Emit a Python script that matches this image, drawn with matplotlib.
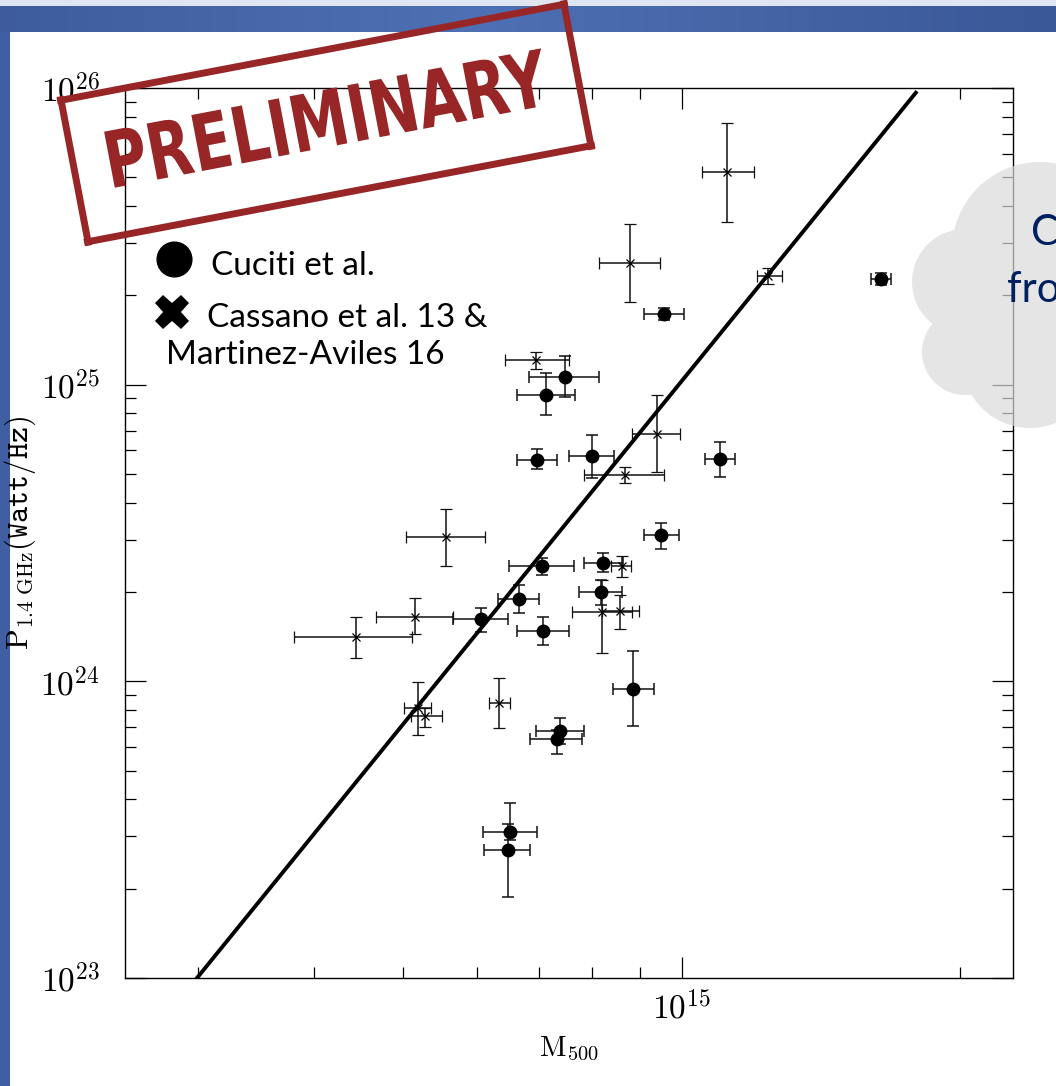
import numpy as np
import matplotlib
matplotlib.use("Agg")
import matplotlib.pyplot as plt
from matplotlib.patches import Rectangle, PathPatch
from matplotlib.path import Path
from matplotlib.textpath import TextPath
from matplotlib.font_manager import FontProperties
from matplotlib.transforms import Affine2D
from matplotlib.ticker import LogLocator, FuncFormatter, NullFormatter

plt.rcParams["mathtext.fontset"] = "cm"

# Cuciti et al.: M500 in 1e14 Msun, P(1.4 GHz) in 1e24 W/Hz, with lower/upper bounds
cuc_m = [7.48, 7.13, 6.98, 8.00, 10.99, 7.06, 8.22, 6.67, 8.18, 6.07,
         7.08, 8.85, 7.39, 7.33, 16.43, 9.56, 9.49, 6.52, 6.49]
cuc_m_lo = [6.84, 6.64, 6.64, 7.55, 10.6, 6.51, 7.84, 6.33, 7.74, 5.66,
            6.64, 8.43, 6.96, 6.85, 16.03, 9.10, 9.10, 6.10, 6.11]
cuc_m_hi = [8.14, 7.67, 7.33, 8.45, 11.4, 7.65, 8.64, 7.01, 8.62, 6.49,
            7.55, 9.33, 7.84, 7.80, 16.81, 10.05, 9.93, 6.98, 6.85]
cuc_p = [10.6, 9.23, 5.57, 5.75, 5.62, 2.45, 2.51, 1.90, 2.00, 1.62,
         1.48, 0.943, 0.681, 0.639, 22.7, 17.3, 3.11, 0.311, 0.270]
cuc_p_lo = [9.09, 7.91, 5.20, 4.85, 4.89, 2.28, 2.34, 1.70, 1.81, 1.47,
            1.33, 0.707, 0.615, 0.569, 21.7, 16.5, 2.79, 0.292, 0.188]
cuc_p_hi = [12.5, 10.95, 6.07, 6.77, 6.41, 2.61, 2.71, 2.11, 2.20, 1.77,
            1.65, 1.27, 0.753, 0.686, 23.8, 18.1, 3.42, 0.389, 0.331]

# Cassano et al. 13 & Martinez-Aviles 16
cas_m = [11.2, 8.79, 12.4, 6.96, 9.40, 8.68, 5.56, 8.62, 8.20, 8.57,
         5.15, 4.44, 5.19, 5.28, 6.35]
cas_m_lo = [10.5, 8.14, 12.05, 6.43, 8.83, 7.84, 5.03, 8.38, 7.61, 8.20,
            4.67, 3.81, 5.01, 5.09, 6.18]
cas_m_hi = [11.96, 9.47, 12.82, 7.55, 9.95, 9.56, 6.13, 8.81, 8.83, 8.99,
            5.66, 5.11, 5.36, 5.50, 6.52]
cas_p = [52.1, 25.7, 23.2, 12.1, 6.82, 4.96, 3.07, 2.45, 1.71, 1.73,
         1.65, 1.41, 0.813, 0.765, 0.846]
cas_p_lo = [35.3, 19.0, 21.8, 11.3, 5.08, 4.66, 2.45, 2.25, 1.25, 1.50,
            1.44, 1.20, 0.660, 0.702, 0.696]
cas_p_hi = [76.2, 34.8, 24.7, 12.9, 9.23, 5.28, 3.81, 2.65, 2.20, 1.96,
            1.91, 1.65, 0.995, 0.813, 1.03]

# power-law fit  P24 = 10**fit_norm * M14**fit_slope
fit_slope = 3.84
fit_norm = -2.827
fit_m_range = [2.99, 17.9]

W, H = 1056, 1086
fig = plt.figure(figsize=(W / 100, H / 100), dpi=100)

# slide background
bg = fig.add_axes([0, 0, 1, 1])
bg.axis("off")
edge = np.array([0x3a, 0x58, 0x98]) / 255
mid = np.array([0x4e, 0x70, 0xb4]) / 255
t = np.linspace(0, 1, 300)
w = 1 - np.abs(t - 0.45) / 0.55
band = edge[None, :] * (1 - w[:, None]) + mid[None, :] * w[:, None]
bg.imshow(band[None, :, :], extent=(0, W, H - 32, H - 6), aspect="auto")
bg.add_patch(Rectangle((0, H - 6), W, 6, color="#dfe6f1", lw=0))
bg.add_patch(Rectangle((0, 0), 10, H - 32, color="#3f5fa2", lw=0))
bg.add_patch(Rectangle((10, 0), W - 10, H - 32, color="white", lw=0))
bg.set_xlim(0, W)
bg.set_ylim(0, H)

ax = fig.add_axes([125 / W, 108 / H, 888 / W, 890 / H])
ax.set_xscale("log")
ax.set_yscale("log")
ax.set_xlim(2.5e14, 2.28e15)
ax.set_ylim(1e23, 1e26)

def scaled(vals, unit):
    return np.array(vals) * unit

cm_ = scaled(cuc_m, 1e14)
cp_ = scaled(cuc_p, 1e24)
ax.errorbar(cm_, cp_,
            xerr=[cm_ - scaled(cuc_m_lo, 1e14), scaled(cuc_m_hi, 1e14) - cm_],
            yerr=[cp_ - scaled(cuc_p_lo, 1e24), scaled(cuc_p_hi, 1e24) - cp_],
            fmt="o", ms=9, color="black", ecolor="#111111", elinewidth=1.1,
            capsize=4.5, capthick=1.1, zorder=3)

sm_ = scaled(cas_m, 1e14)
sp_ = scaled(cas_p, 1e24)
ax.errorbar(sm_, sp_,
            xerr=[sm_ - scaled(cas_m_lo, 1e14), scaled(cas_m_hi, 1e14) - sm_],
            yerr=[sp_ - scaled(cas_p_lo, 1e24), scaled(cas_p_hi, 1e24) - sp_],
            fmt="x", ms=6, mew=0.9, color="black", ecolor="#111111",
            elinewidth=1.1, capsize=4.5, capthick=1.1, zorder=3)

mfit = np.array(fit_m_range)
ax.plot(mfit * 1e14, 10 ** fit_norm * mfit ** fit_slope * 1e24,
        color="black", lw=2.8, zorder=4)

ax.xaxis.set_major_locator(LogLocator(base=10))
ax.xaxis.set_minor_locator(LogLocator(base=10, subs=np.arange(2, 10)))
ax.yaxis.set_minor_locator(LogLocator(base=10, subs=np.arange(2, 10)))
expfmt = FuncFormatter(lambda v, pos: r"$10^{%d}$" % round(np.log10(v)))
ax.xaxis.set_major_formatter(expfmt)
ax.yaxis.set_major_formatter(expfmt)
ax.xaxis.set_minor_formatter(NullFormatter())
ax.yaxis.set_minor_formatter(NullFormatter())
ax.tick_params(which="both", direction="in", top=True, right=True,
               width=0.9, colors="black", labelsize=24)
ax.tick_params(which="major", length=15)
ax.tick_params(axis="y", which="major", pad=18)
ax.tick_params(axis="x", which="major", pad=9)
ax.tick_params(which="minor", length=8)
for s in ax.spines.values():
    s.set_linewidth(1.0)

ax.set_xlabel(r"$\mathrm{M}_{500}$", fontsize=21)
ax.xaxis.set_label_coords(0.5, -0.064)
ax.set_ylabel(r"$\mathrm{P}_{1.4\ \mathrm{GHz}}\mathtt{(Watt/Hz)}$", fontsize=22)
ax.yaxis.set_label_coords(-0.098, 0.5)

# overlay in pixel units (y up) for the stamp, legend and cloud
ov = fig.add_axes([0, 0, 1, 1], zorder=10)
ov.set_xlim(0, W)
ov.set_ylim(0, H)
ov.axis("off")
ov.patch.set_alpha(0)

red = "#982626"
ang = 10.8
cx, cy = 326, H - 123
bw, bh = 512, 144
rot = Affine2D().rotate_deg(ang).translate(cx, cy)
corners = [(-bw / 2, bh / 2), (bw / 2, bh / 2), (bw / 2, -bh / 2), (-bw / 2, -bh / 2)]
for i in range(4):
    p0 = np.array(corners[i], float)
    p1 = np.array(corners[(i + 1) % 4], float)
    d = (p1 - p0) / np.linalg.norm(p1 - p0)
    seg = rot.transform(np.array([p0 - d * 4, p1 + d * 4]))
    ov.plot(seg[:, 0], seg[:, 1], color=red, lw=5, solid_capstyle="butt")

tp = TextPath((0, 0), "PRELIMINARY", size=100,
              prop=FontProperties(family="DejaVu Sans", weight="bold"))
ext = tp.get_extents()
tr = (Affine2D()
      .translate(-(ext.x0 + ext.x1) / 2, -(ext.y0 + ext.y1) / 2)
      .scale(445 / ext.width, 57 / ext.height)
      .rotate_deg(ang)
      .translate(328, H - 118))
ov.add_patch(PathPatch(tr.transform_path(tp), fc=red, ec="none"))

# legend
ov.plot(174, H - 259, "o", ms=25, color="black")
ov.plot(172, H - 312, "X", ms=25, color="black", mew=0)
legfont = dict(family="Lato", fontsize=24, color="black", va="baseline")
ov.text(211, H - 275, "Cuciti et al.", **legfont)
ov.text(207, H - 327, "Cassano et al. 13 &", **legfont)
ov.text(166, H - 364, "Martinez-Aviles 16", **legfont)

# cloud call-out at the right edge
bumps = [(1040, 250, 88), (965, 282, 53), (965, 352, 43), (1030, 360, 68), (1060, 300, 110)]
cloud = Path.make_compound_path(*[Path.circle((x, H - y), r) for x, y, r in bumps])
ov.add_patch(PathPatch(cloud, fc="#dadada", ec="none", alpha=0.7))
ov.text(1031, H - 245, "C", family="Lato", fontsize=30, color="#002060", va="baseline")
ov.text(1007, H - 302, "from", family="Lato", fontsize=30, color="#002060", va="baseline")

fig.savefig("out.png", dpi=100)
